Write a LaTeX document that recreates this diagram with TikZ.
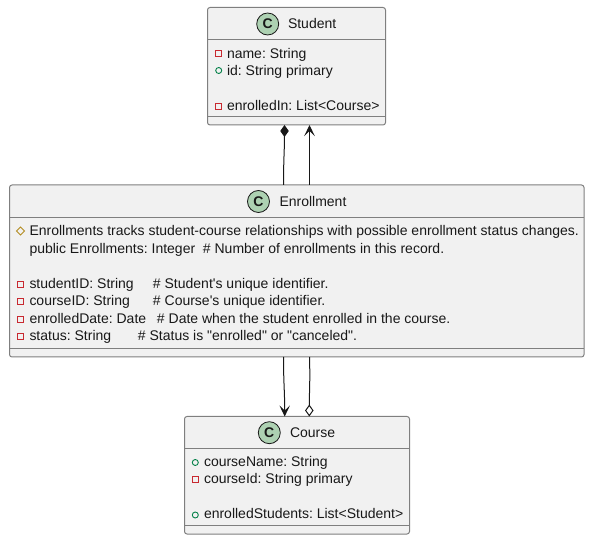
\documentclass[tikz,border=0pt]{standalone}
\usepackage{fontspec}
\newfontfamily\umlfont{Liberation Sans}
\usetikzlibrary{arrows.meta,shapes.geometric}
\definecolor{boxfill}{HTML}{F1F1F1}
\definecolor{boxline}{HTML}{7F7F7F}
\definecolor{ink}{HTML}{181818}
\definecolor{badge}{HTML}{ADD1B2}
\definecolor{privc}{HTML}{C82930}
\definecolor{pubc}{HTML}{038048}
\definecolor{protc}{HTML}{B38D22}
\tikzset{
  umlbox/.style={draw=boxline,fill=boxfill,line width=1pt,rounded corners=2.5pt,inner sep=0pt,outer sep=0pt,minimum width=#1},
  sepline/.style={draw=boxline,line width=1pt},
  member/.style={anchor=base west,inner sep=0pt,outer sep=0pt,text=ink,font=\umlfont\fontsize{14}{16}\selectfont\frenchspacing},
  titletext/.style={member},
  badgec/.style={circle,draw=ink,fill=badge,line width=0.8pt,minimum size=22pt,inner sep=0pt,text=ink,font=\umlfont\fontsize{14}{16}\selectfont\bfseries},
  privicon/.style={rectangle,draw=privc,line width=0.9pt,minimum size=6pt,inner sep=0pt},
  pubicon/.style={circle,draw=pubc,line width=0.9pt,minimum size=6pt,inner sep=0pt},
  proticon/.style={diamond,draw=protc,line width=0.9pt,minimum width=8.5pt,minimum height=8.5pt,inner sep=0pt,aspect=1},
  conn/.style={draw=ink,line width=1pt},
  opentip/.style={-{Stealth[length=11pt,width=10.5pt,inset=5pt,fill=ink]}},
}
\newcommand{\fld}[2]{\makebox[#1][l]{#2}}
\begin{document}
\begin{tikzpicture}[x=1pt,y=-1pt]
\useasboundingbox (0,0) rectangle (590,540);
% boxes
\node[umlbox=178pt,minimum height=117.5pt] (student) at (296.5,66.25) {};
\node[umlbox=574.5pt,minimum height=172pt] (enroll) at (296.75,271) {};
\node[umlbox=225pt,minimum height=117.5pt] (course) at (297,475.25) {};
% separators
\draw[sepline] ([yshift=-32pt]student.north west) -- ([yshift=-32pt]student.north east);
\draw[sepline] ([yshift=8pt]student.south west) -- ([yshift=8pt]student.south east);
\draw[sepline] ([yshift=-32.5pt]enroll.north west) -- ([yshift=-32.5pt]enroll.north east);
\draw[sepline] ([yshift=8.5pt]enroll.south west) -- ([yshift=8.5pt]enroll.south east);
\draw[sepline] ([yshift=-32pt]course.north west) -- ([yshift=-32pt]course.north east);
\draw[sepline] ([yshift=8pt]course.south west) -- ([yshift=8pt]course.south east);
% student
\node[badgec] (cs) at (267.7,24) {C};
\node[titletext] (ts) at (288,29) {Student};
\node[privicon] (s1i) at (218.7,53.5) {};
\node[member] (s1) at (227,58.3) {name: String};
\node[pubicon] (s2i) at (218.7,70.5) {};
\node[member] (s2) at (227,75.6) {id: String primary};
\node[privicon] (s3i) at (218.7,106) {};
\node[member] (s3) at (227,110.3) {enrolledIn: List<Course>};
% enrollment
\node[badgec] (ce) at (258.5,201.5) {C};
\node[titletext] (te) at (279.5,206.7) {Enrollment};
\node[proticon] (e1i) at (20.5,231) {};
\node[member] (e1) at (29.5,236) {Enrollments tracks student-course relationships with possible enrollment status changes.};
\node[member] (e2) at (29.5,253.3) {\fld{173.5pt}{public Enrollments: Integer}\# Number of enrollments in this record.};
\node[privicon] (e3i) at (20.5,284.5) {};
\node[member] (e3) at (29.5,288.3) {\fld{123.5pt}{studentID: String}\# Student's unique identifier.};
\node[privicon] (e4i) at (20.5,301.5) {};
\node[member] (e4) at (29.5,306) {\fld{123.5pt}{courseID: String}\# Course's unique identifier.};
\node[privicon] (e5i) at (20.5,319.5) {};
\node[member] (e5) at (29.5,323.6) {\fld{127.5pt}{enrolledDate: Date}\# Date when the student enrolled in the course.};
\node[privicon] (e6i) at (20.5,336.5) {};
\node[member] (e6) at (29.5,341) {\fld{108.5pt}{status: String}\# Status is "enrolled" or "canceled".};
% course
\node[badgec] (cc) at (269.3,432.7) {C};
\node[titletext] (tc) at (290,437.5) {Course};
\node[pubicon] (c1i) at (195.3,462.5) {};
\node[member] (c1) at (204,466.7) {courseName: String};
\node[privicon] (c2i) at (195.3,479.5) {};
\node[member] (c2) at (204,484) {courseId: String primary};
\node[pubicon] (c3i) at (195.3,515) {};
\node[member] (c3) at (204,518.6) {enrolledStudents: List<Student>};
% connectors
\draw[conn,-{Diamond[length=12pt,width=8.5pt,fill=ink]}] ([xshift=-13.25pt]enroll.north) .. controls ([xshift=-13.25pt,yshift=25pt]enroll.north) and ([xshift=-12pt,yshift=-25pt]student.south) .. ([xshift=-12pt]student.south);
\draw[conn,opentip] ([xshift=12.75pt]enroll.north) -- ([xshift=13pt]student.south);
\draw[conn,opentip] ([xshift=-13.25pt]enroll.south) .. controls ([xshift=-13.25pt,yshift=-25pt]enroll.south) and ([xshift=-12.3pt,yshift=25pt]course.north) .. ([xshift=-12.3pt]course.north);
\draw[conn,-{Diamond[length=12pt,width=8.5pt,open,fill=white]}] ([xshift=12.75pt]enroll.south) .. controls ([xshift=13.5pt,yshift=-25pt]enroll.south) and ([xshift=12.3pt,yshift=25pt]course.north) .. ([xshift=12.3pt]course.north);
\end{tikzpicture}
\end{document}
